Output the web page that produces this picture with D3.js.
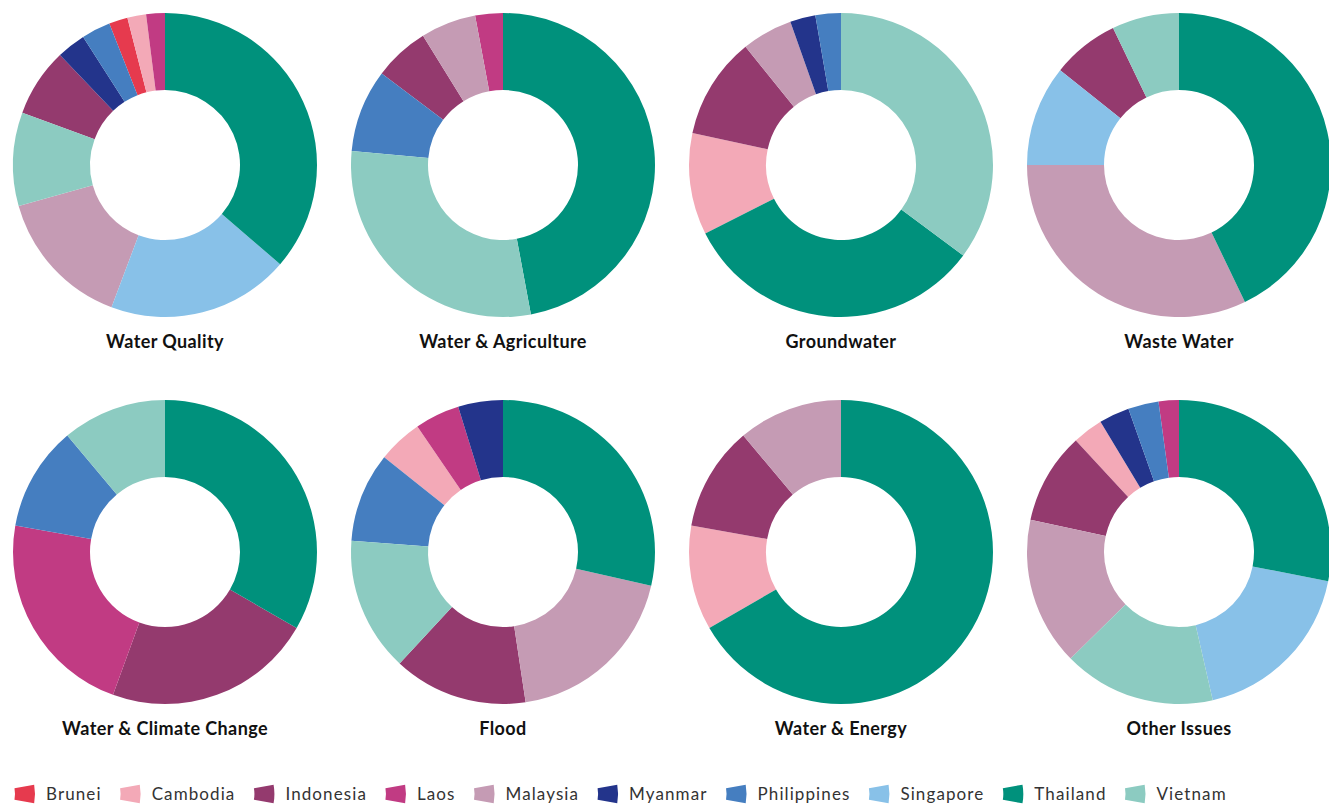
<!DOCTYPE html>
<html><head><meta charset="utf-8">
<script src="https://cdn.jsdelivr.net/npm/d3@7"></script>
<style>
html,body{margin:0;padding:0;background:#fff;}
svg{display:block;}
</style></head>
<body>
<svg id="chart" width="1329" height="807"></svg>
<script>
const countries = ["Brunei","Cambodia","Indonesia","Laos","Malaysia","Myanmar","Philippines","Singapore","Thailand","Vietnam"];
const colors = ["#e63a4e","#f3a9b7","#943a6e","#c13b83","#c59bb4","#23348b","#457ec0","#88c1e8","#00917c","#8ccbc1"];
const topics = ["Water Quality","Water & Agriculture","Groundwater","Waste Water","Water & Climate Change","Flood","Water & Energy","Other Issues"];
// values per topic, in the order of `countries`
const waterQuality      = [2, 2, 7.3, 2, 15, 3.1, 3.1, 19.5, 36.5, 10];
const waterAgriculture  = [0, 0, 2, 1, 2, 0, 3, 0, 16, 10];
const groundwater       = [0, 4, 4, 0, 2, 1, 1, 0, 12, 13];
const wasteWater        = [0, 0, 2, 0, 9, 0, 0, 3, 12, 2];
const waterClimate      = [0, 0, 2, 2, 0, 0, 1, 0, 3, 1];
const flood             = [0, 1, 3, 1, 4, 1, 2, 0, 6, 3];
const waterEnergy       = [0, 1, 1, 0, 1, 0, 0, 0, 6, 0];
const otherIssues       = [0, 3, 9, 2, 14.6, 3, 3, 17, 26, 15];
const seriesValues = [waterQuality, waterAgriculture, groundwater, wasteWater, waterClimate, flood, waterEnergy, otherIssues];

const svg = d3.select("#chart");
const color = d3.scaleOrdinal().domain(countries).range(colors);

const cols = 4, colW = 338, x0 = 165, y0 = 165, rowH = 387;
const outerR = 152, innerR = 75;
const pie = d3.pie().value(d => d.value); // default: descending by value
const arc = d3.arc().innerRadius(innerR).outerRadius(outerR);

topics.forEach((t, i) => {
  const cx = x0 + (i % cols) * colW;
  const cy = y0 + Math.floor(i / cols) * rowH;
  const data = countries.map((c, k) => ({country: c, value: seriesValues[i][k]})).filter(d => d.value > 0);
  const g = svg.append("g").attr("transform", `translate(${cx},${cy})`);
  g.selectAll("path").data(pie(data)).join("path")
    .attr("d", arc)
    .attr("fill", d => color(d.data.country));
  svg.append("text")
    .attr("x", cx).attr("y", cy + 183)
    .attr("text-anchor", "middle")
    .attr("font-family", "Lato, 'Open Sans', sans-serif")
    .attr("font-weight", 700)
    .attr("font-size", 18)
    .attr("letter-spacing", 0.4)
    .attr("fill", "#111")
    .text(t);
});

// legend
const swatch = d3.arc().innerRadius(32).outerRadius(52)
  .startAngle(Math.PI/2 - 0.18).endAngle(Math.PI/2 + 0.18);
const legend = svg.append("g").attr("transform", "translate(0,794)");
let xc = 15;
countries.forEach((c, k) => {
  const item = legend.append("g").attr("transform", `translate(${xc},0)`);
  item.append("path").attr("d", swatch).attr("transform", "translate(-32,0)").attr("fill", color(c));
  const txt = item.append("text").attr("x", 31).attr("y", 6)
    .attr("font-family", "Lato, 'Open Sans', sans-serif")
    .attr("font-size", 17).attr("letter-spacing", 1.1)
    .attr("fill", "#333").text(c);
  const w = txt.node().getComputedTextLength();
  xc += 31 + w + 19;
});
</script>
</body></html>
